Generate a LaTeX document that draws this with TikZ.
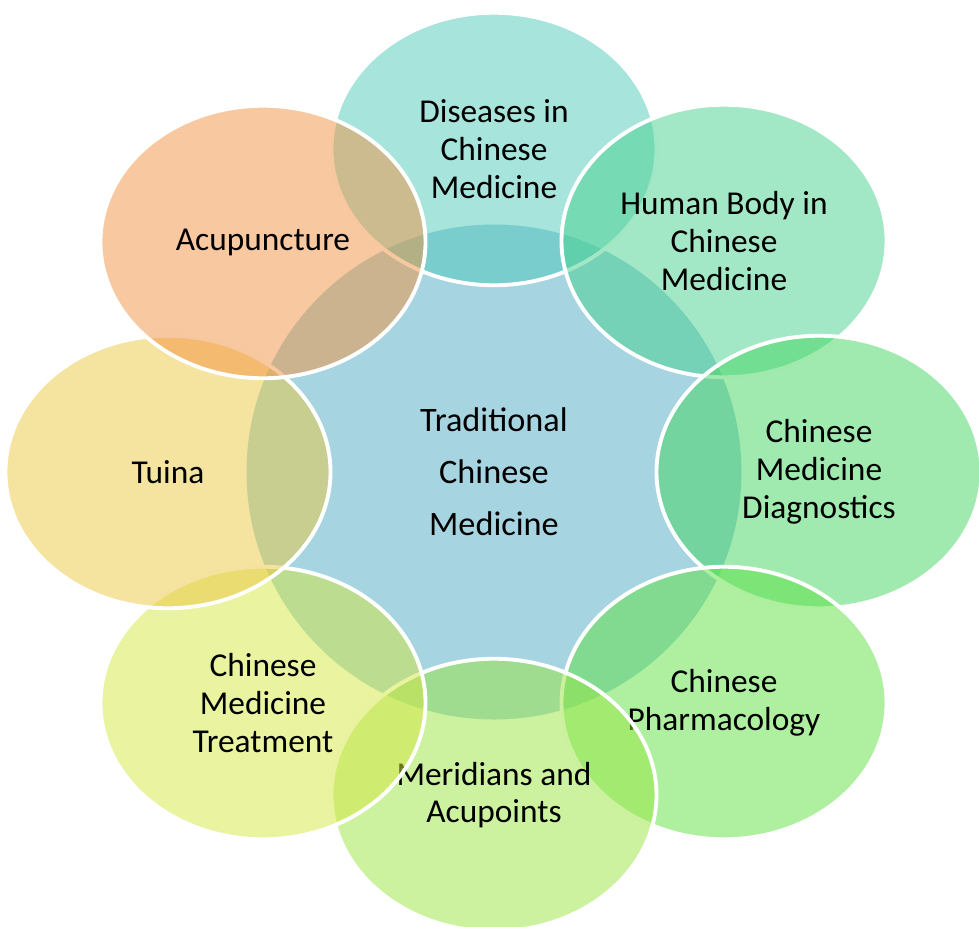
\documentclass[tikz,border=0pt]{standalone}
\usepackage{fontspec}
\setmainfont{Carlito}
\usetikzlibrary{shapes.geometric}
\definecolor{hubblue}{RGB}{77,169,195}
\definecolor{diseasecol}{RGB}{77,201,185}
\definecolor{bodycol}{RGB}{71,209,141}
\definecolor{diagcol}{RGB}{65,213,95}
\definecolor{pharmcol}{RGB}{93,225,65}
\definecolor{meridcol}{RGB}{153,229,65}
\definecolor{treatcol}{RGB}{211,231,65}
\definecolor{tuinacol}{RGB}{235,199,65}
\definecolor{acupcol}{RGB}{241,147,65}

\begin{document}
\begin{tikzpicture}[
  hub/.style={shape=ellipse, minimum width=9.9cm, minimum height=9.9cm, fill opacity=0.5, text opacity=1, align=center, font=\fontsize{19.5}{29.5}\selectfont},
  petal/.style={shape=ellipse, draw=white, line width=2.2pt, draw opacity=1, minimum width=6.5cm, minimum height=5.45cm, fill opacity=0.5, text opacity=1, align=center, font=\fontsize{19}{21.5}\selectfont}]

\useasboundingbox (-9.88,-9.08) rectangle (9.70,9.44);

\node [hub, fill=hubblue] (tcm) at (0,0) {Traditional\\Chinese\\Medicine};
\node [petal, fill=diseasecol] (diseases) at (0,6.46) {Diseases in\\Chinese\\Medicine};
\node [petal, fill=bodycol] (body) at (4.60,4.62) {Human Body in\\Chinese\\Medicine};
\node [petal, fill=diagcol] (diag) at (6.50,0) {Chinese\\Medicine\\Diagnostics};
\node [petal, fill=pharmcol] (pharm) at (4.60,-4.62) {Chinese\\Pharmacology};
\node [petal, fill=meridcol] (merid) at (0,-6.46) {Meridians and\\Acupoints};
\node [petal, fill=treatcol] (treat) at (-4.62,-4.62) {Chinese\\Medicine\\Treatment};
\node [petal, fill=tuinacol] (tuina) at (-6.52,0) {Tuina};
\node [petal, fill=acupcol] (acup) at (-4.62,4.60) {Acupuncture};
\end{tikzpicture}
\end{document}
